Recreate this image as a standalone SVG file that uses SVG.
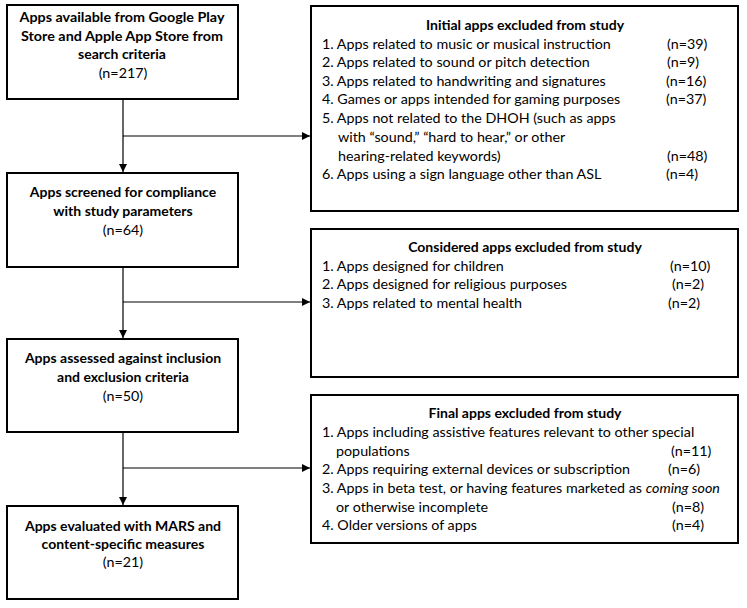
<svg xmlns="http://www.w3.org/2000/svg" width="747" height="608" viewBox="0 0 747 608">
<defs>
<marker id="ah" markerWidth="8" markerHeight="8" refX="8" refY="4" orient="auto" markerUnits="userSpaceOnUse">
<path d="M0,0 L8,4 L0,8 Z" fill="#000"/>
</marker>
<style>
.box{fill:#fff;stroke:#000;stroke-width:2}
.t{font-family:Lato,"Open Sans","Liberation Sans",sans-serif;font-size:14.3px;fill:#000}
.b{font-weight:bold;text-anchor:middle;font-size:14px}
.c{text-anchor:middle}
.line{stroke:#000;stroke-width:1.2;fill:none}
</style>
</defs>
<rect width="747" height="608" fill="#fff"/>
<g id="connectors">
<line class="line" x1="123" y1="100" x2="123" y2="172" marker-end="url(#ah)"/>
<line class="line" x1="123" y1="136" x2="310" y2="136" marker-end="url(#ah)"/>
<line class="line" x1="123" y1="268" x2="123" y2="338" marker-end="url(#ah)"/>
<line class="line" x1="123" y1="302" x2="310" y2="302" marker-end="url(#ah)"/>
<line class="line" x1="123" y1="433" x2="123" y2="505" marker-end="url(#ah)"/>
<line class="line" x1="123" y1="468" x2="310" y2="468" marker-end="url(#ah)"/>
</g>
<g id="n1">
<rect class="box" x="7" y="5" width="231" height="94"/>
<text class="t b" x="122" y="22" textLength="205" lengthAdjust="spacingAndGlyphs">Apps available from Google Play</text>
<text class="t b" x="122" y="41" textLength="202" lengthAdjust="spacingAndGlyphs">Store and Apple App Store from</text>
<text class="t b" x="122" y="59">search criteria</text>
<text class="t c" x="123" y="78">(n=217)</text>
</g>
<g id="n2">
<rect class="box" x="7" y="173" width="231" height="94"/>
<text class="t b" x="123" y="197">Apps screened for compliance</text>
<text class="t b" x="123" y="216">with study parameters</text>
<text class="t c" x="123" y="235">(n=64)</text>
</g>
<g id="n3">
<rect class="box" x="7" y="339" width="231" height="93"/>
<text class="t b" x="123" y="363">Apps assessed against inclusion</text>
<text class="t b" x="123" y="382">and exclusion criteria</text>
<text class="t c" x="123" y="401">(n=50)</text>
</g>
<g id="n4">
<rect class="box" x="7" y="506" width="231" height="93"/>
<text class="t b" x="123" y="531">Apps evaluated with MARS and</text>
<text class="t b" x="123" y="549">content-specific measures</text>
<text class="t c" x="123" y="567">(n=21)</text>
</g>
<g id="e1">
<rect class="box" x="311" y="6" width="427" height="205"/>
<text class="t b" x="525" y="30">Initial apps excluded from study</text>
<text class="t" x="322" y="49">1. Apps related to music or musical instruction</text>
<text class="t" x="667" y="49">(n=39)</text>
<text class="t" x="322" y="67">2. Apps related to sound or pitch detection</text>
<text class="t" x="667" y="67">(n=9)</text>
<text class="t" x="322" y="86">3. Apps related to handwriting and signatures</text>
<text class="t" x="666" y="86">(n=16)</text>
<text class="t" x="322" y="104">4. Games or apps intended for gaming purposes</text>
<text class="t" x="666" y="104">(n=37)</text>
<text class="t" x="322" y="123">5. Apps not related to the DHOH (such as apps</text>
<text class="t" x="338" y="142">with “sound,” “hard to hear,” or other</text>
<text class="t" x="338" y="161">hearing-related keywords)</text>
<text class="t" x="667" y="161">(n=48)</text>
<text class="t" x="322" y="179">6. Apps using a sign language other than ASL</text>
<text class="t" x="666" y="179">(n=4)</text>
</g>
<g id="e2">
<rect class="box" x="311" y="229" width="427" height="148"/>
<text class="t b" x="525" y="252">Considered apps excluded from study</text>
<text class="t" x="322" y="271">1. Apps designed for children</text>
<text class="t" x="670" y="271">(n=10)</text>
<text class="t" x="322" y="289">2. Apps designed for religious purposes</text>
<text class="t" x="672" y="289">(n=2)</text>
<text class="t" x="322" y="308">3. Apps related to mental health</text>
<text class="t" x="668" y="308">(n=2)</text>
</g>
<g id="e3">
<rect class="box" x="311" y="395" width="427" height="148"/>
<text class="t b" x="525" y="418">Final apps excluded from study</text>
<text class="t" x="322" y="437">1. Apps including assistive features relevant to other special</text>
<text class="t" x="336" y="456">populations</text>
<text class="t" x="671" y="456">(n=11)</text>
<text class="t" x="322" y="474">2. Apps requiring external devices or subscription</text>
<text class="t" x="668" y="474">(n=6)</text>
<text class="t" x="322" y="493">3. Apps in beta test, or having features marketed as <tspan font-style="italic">coming soon</tspan></text>
<text class="t" x="336" y="512">or otherwise incomplete</text>
<text class="t" x="672" y="512">(n=8)</text>
<text class="t" x="322" y="530">4. Older versions of apps</text>
<text class="t" x="672" y="530">(n=4)</text>
</g>
</svg>
